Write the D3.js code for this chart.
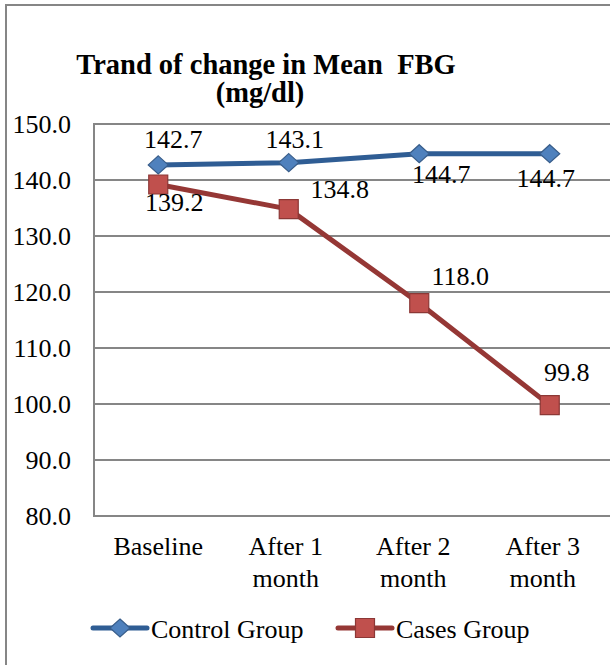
<!DOCTYPE html>
<html>
<head>
<meta charset="utf-8">
<script src="https://cdn.jsdelivr.net/npm/d3@7"></script>
<style>
  html, body { margin: 0; padding: 0; background: #fff; }
  svg { display: block; }
</style>
</head>
<body>
<svg id="chart" width="610" height="665"></svg>
<script>
// data
const categories = ['Baseline', 'After 1|month', 'After 2|month', 'After 3|month'];
const controlValues = [142.7, 143.1, 144.7, 144.7];
const casesValues = [139.2, 134.8, 118.0, 99.8];
const yTicks = [80, 90, 100, 110, 120, 130, 140, 150];
const seriesNames = ['Control Group', 'Cases Group'];

// label placement (dx, dy from marker)
const controlLabelPos = [[15, -17], [6, -15], [22, 29], [-4, 33]];
const casesLabelPos = [[16, 27], [51, -11], [41, -18], [17, -24]];
const catLabelShift = [0, -3, -6, -7];

const FONT = 'Liberation Serif';
const FS = 26;
const plot = { left: 93, right: 615, top: 124, bottom: 516 };

const svg = d3.select('#chart').attr('font-family', FONT);

// outer frame
svg.append('rect')
    .attr('x', 6).attr('y', 5)
    .attr('width', 640).attr('height', 700)
    .attr('fill', 'none')
    .attr('stroke', '#868686')
    .attr('stroke-width', 2);

const x = d3.scalePoint()
    .domain(categories)
    .range([plot.left, plot.right])
    .padding(0.5);

const y = d3.scaleLinear()
    .domain([80, 150])
    .range([plot.bottom, plot.top]);

// gridlines
svg.append('g')
    .selectAll('line')
    .data(yTicks)
    .join('line')
    .attr('x1', plot.left).attr('x2', 612)
    .attr('y1', d => y(d)).attr('y2', d => y(d))
    .attr('stroke', '#868686')
    .attr('stroke-width', 2);

// left axis line
svg.append('line')
    .attr('x1', plot.left + 1).attr('x2', plot.left + 1)
    .attr('y1', plot.top).attr('y2', plot.bottom)
    .attr('stroke', '#868686')
    .attr('stroke-width', 2);

// y labels
svg.append('g')
    .selectAll('text')
    .data(yTicks)
    .join('text')
    .attr('x', 71)
    .attr('y', d => y(d) + 9)
    .attr('text-anchor', 'end')
    .attr('font-family', FONT)
    .attr('font-size', FS)
    .attr('fill', '#000')
    .text(d => d.toFixed(1));

// x labels
const xLab = svg.append('g')
    .selectAll('text')
    .data(categories)
    .join('text')
    .attr('text-anchor', 'middle')
    .attr('font-family', FONT)
    .attr('font-size', FS)
    .attr('fill', '#000');
xLab.each(function (d, k) {
    const parts = d.split('|');
    d3.select(this).selectAll('tspan')
        .data(parts)
        .join('tspan')
        .attr('x', x(d) + catLabelShift[k])
        .attr('y', (p, i) => 555 + i * 32)
        .text(p => p);
});

// title
const title = svg.append('text')
    .attr('text-anchor', 'middle')
    .attr('font-family', FONT)
    .attr('font-size', 28.5)
    .attr('font-weight', 'bold')
    .attr('fill', '#000')
    .style('white-space', 'pre');
title.append('tspan').attr('x', 266).attr('y', 74).text('Trand of change in Mean  FBG');
title.append('tspan').attr('x', 260).attr('y', 102).text('(mg/dl)');

const line = d3.line()
    .x((d, i) => x(categories[i]))
    .y(d => y(d));

const diamond = () => 'M0,-9L10,0L0,9L-10,0Z';
const square = () => 'M-9.5,-9.5H9.5V9.5H-9.5Z';

function drawSeries(values, lineColor, fill, stroke, sym, labelPos) {
    const g = svg.append('g');
    g.append('path')
        .datum(values)
        .attr('d', line)
        .attr('fill', 'none')
        .attr('stroke', lineColor)
        .attr('stroke-width', 5)
        .attr('stroke-linejoin', 'round');
    g.selectAll('.mk')
        .data(values)
        .join('path')
        .attr('class', 'mk')
        .attr('transform', (d, i) => `translate(${x(categories[i])},${y(d)})`)
        .attr('d', sym)
        .attr('fill', fill)
        .attr('stroke', stroke)
        .attr('stroke-width', 1.2);
    g.selectAll('.lbl')
        .data(values)
        .join('text')
        .attr('class', 'lbl')
        .attr('x', (d, i) => x(categories[i]) + labelPos[i][0])
        .attr('y', (d, i) => y(d) + labelPos[i][1])
        .attr('text-anchor', 'middle')
        .attr('font-family', FONT)
        .attr('font-size', FS)
        .attr('fill', '#000')
        .text(d => d.toFixed(1));
}

drawSeries(controlValues, '#2F5D94', '#4F81BD', '#385D8A', diamond, controlLabelPos);
drawSeries(casesValues, '#953735', '#C0504D', '#8C3836', square, casesLabelPos);

// legend
const legendItems = [
    { name: seriesNames[0], x0: 93, color: '#2F5D94', fill: '#4F81BD', stroke: '#385D8A', sym: diamond },
    { name: seriesNames[1], x0: 338, color: '#953735', fill: '#C0504D', stroke: '#8C3836', sym: square }
];
const lg = svg.append('g')
    .selectAll('g')
    .data(legendItems)
    .join('g')
    .attr('transform', d => `translate(${d.x0},628)`);
lg.append('line')
    .attr('x1', 0).attr('x2', 54)
    .attr('stroke', d => d.color)
    .attr('stroke-width', 5)
    .attr('stroke-linecap', 'round');
lg.append('path')
    .attr('transform', 'translate(27,0)')
    .attr('d', d => d.sym())
    .attr('fill', d => d.fill)
    .attr('stroke', d => d.stroke)
    .attr('stroke-width', 1.2);
lg.append('text')
    .attr('x', 58)
    .attr('y', 10)
    .attr('font-family', FONT)
    .attr('font-size', FS)
    .attr('fill', '#000')
    .text(d => d.name);
</script>
</body>
</html>
